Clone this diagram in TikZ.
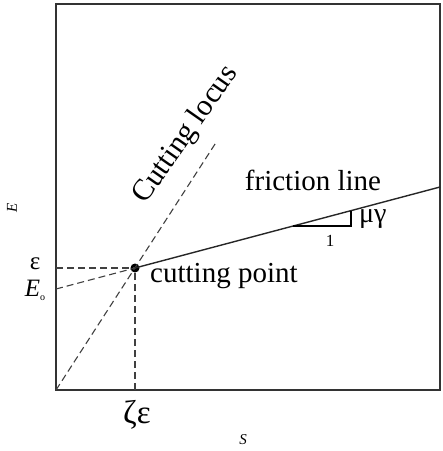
\documentclass[tikz,border=0pt]{standalone}
\usepackage{fontspec}
\setmainfont{Liberation Serif}
\usetikzlibrary{positioning}

\begin{document}
\begin{tikzpicture}[
  x=1pt, y=-1pt,
  every node/.style={inner sep=0pt, font=\fontsize{29}{32}\selectfont},
  frame/.style={draw=black!80, line width=2pt},
  guide/.style={draw=black!75, line width=1.1pt, dash pattern=on 7pt off 4pt},
  fric/.style={draw=black!85, line width=1.4pt},
  dot/.style={circle, fill=black, minimum size=9pt},
  small/.style={font=\fontsize{15}{18}\selectfont\itshape},
]
\useasboundingbox (0,0) rectangle (443,451);
% axes box
\coordinate (o) at (56,390);
\coordinate (tr) at (440,4);
\draw[frame] (o) rectangle (tr);
% key points
\node[dot] (cp) at (135,268) {};
\coordinate (ye) at (56,268);
\coordinate (yeo) at (56,289);
\coordinate (xz) at (135,390);
\coordinate (fend) at (440,187);
\coordinate (lend) at (217,141);
% guides
\draw[guide] (ye) -- (cp.center);
\draw[guide] (xz) -- (cp.center);
\draw[guide] (yeo) -- (cp.center);
\draw[guide] (o) -- (lend);
% friction line and slope triangle
\draw[fric] (cp.center) -- (fend);
\coordinate (t1) at (293,226);
\coordinate (t2) at (351,226);
\coordinate (t3) at (351,210.5);
\draw[line width=1.3pt] (t1) -- (t2) -- (t3);
% labels
\node (one) at (330,241) {\fontsize{17}{18}\selectfont 1};
\node[anchor=west] (mugam) at (359,219) {\fontsize{28}{30}\selectfont μγ};
\node (fl) at (313,180) {friction line};
\node[anchor=west] (cpl) at (150,276) {cutting point};
\node[rotate=55] (cl) at (186,135) {\fontsize{30}{32}\selectfont Cutting locus};
\node (eps) at (35,264) {\fontsize{25}{26}\selectfont ε};
\node (eo) at (35,290) {\fontsize{25}{26}\selectfont\itshape E\raisebox{-0.35ex}{\fontsize{10}{10}\selectfont\upshape o}};
\node (zeps) at (137,415) {\fontsize{33}{35}\selectfont ζε};
\node[small] (sl) at (243,440) {S};
\node[small, rotate=90] (el) at (12,208) {E};
\end{tikzpicture}
\end{document}
